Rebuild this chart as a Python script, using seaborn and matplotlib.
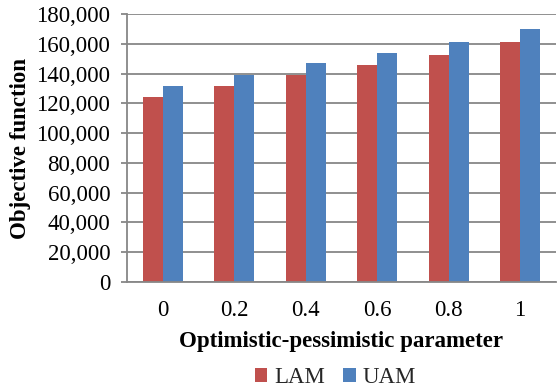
import matplotlib
matplotlib.use("Agg")
import matplotlib.pyplot as plt
import seaborn as sns
import pandas as pd
from matplotlib.patches import Patch
from matplotlib.ticker import FuncFormatter, FixedLocator

# Objective function values for each optimistic-pessimistic parameter
params = ["0", "0.2", "0.4", "0.6", "0.8", "1"]
lam = [124500, 131400, 139000, 145500, 152800, 161100]
uam = [131400, 139000, 147100, 154100, 160900, 169700]
series = ["LAM", "UAM"]
colors = ["#C0504D", "#4F81BD"]

df = pd.DataFrame({
    "param": params * 2,
    "value": lam + uam,
    "model": ["LAM"] * len(params) + ["UAM"] * len(params),
})

sns.set_theme(style="white")
plt.rcParams["font.family"] = ["Liberation Serif", "DejaVu Serif"]

fig = plt.figure(figsize=(5.57, 3.89), dpi=100)
ax = fig.add_axes([0.228, 0.275, 0.770, 0.689])

grid_c = "#878787"
fs = 16.5
ax.set_axisbelow(True)
ax.yaxis.grid(True, color=grid_c, linewidth=1.3)

sns.barplot(data=df, x="param", y="value", hue="model", order=params,
            hue_order=series, palette=colors, width=0.56, saturation=1,
            edgecolor="none", linewidth=0, legend=False, ax=ax)

ax.set_xlim(-0.5, 5.5)
ax.set_ylim(0, 180000)
ax.set_yticks(range(0, 180001, 20000))
ax.yaxis.set_major_formatter(FuncFormatter(lambda v, p: f"{int(v):,}"))

# category boundary ticks on the x axis
ax.xaxis.set_minor_locator(FixedLocator([i - 0.5 for i in range(len(params) + 1)]))
ax.tick_params(axis="x", which="major", length=0, pad=13, labelsize=fs, labelcolor="black")
ax.tick_params(axis="x", which="minor", length=4, width=1.3, color=grid_c, direction="out")
ax.tick_params(axis="y", which="major", length=4, width=1.3, color=grid_c,
               direction="out", pad=8, labelsize=fs, left=True, labelcolor="black")

for s in ["top", "right"]:
    ax.spines[s].set_visible(False)
for s in ["left", "bottom"]:
    ax.spines[s].set_color(grid_c)
    ax.spines[s].set_linewidth(1.3)

ax.set_xlabel("Optimistic-pessimistic parameter", fontsize=fs, fontweight="bold",
              labelpad=7, color="black")
ax.set_ylabel("Objective function", fontsize=fs, fontweight="bold", labelpad=4,
              color="black")

handles = [Patch(facecolor=c, edgecolor="none", label=s) for c, s in zip(colors, series)]
fig.legend(handles=handles, loc="center", bbox_to_anchor=(0.602, 0.029), ncol=2,
           frameon=False, fontsize=fs, handlelength=0.55, handleheight=0.55,
           handletextpad=0.3, columnspacing=0.8)

fig.savefig("out.png", dpi=100)
